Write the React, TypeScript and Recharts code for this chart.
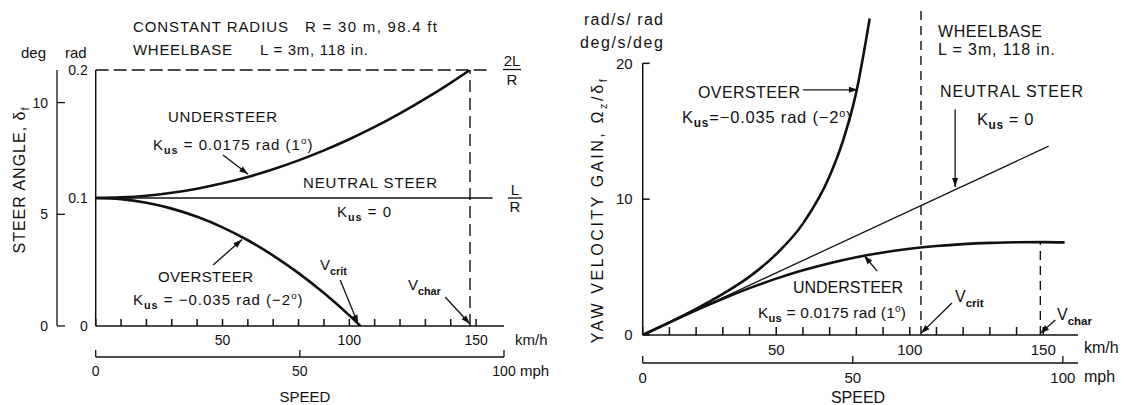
import { ComposedChart, Line, XAxis, YAxis, ReferenceLine } from "recharts"

const FONT = '"Liberation Sans", Arial, Helvetica, sans-serif'
const INK = "#111"

// left panel: steer angle (rad) vs speed (km/h), R = 30 m
const STEER_KMH = [0, 10, 20, 30, 40, 50, 60, 70, 80, 90, 100, 110, 120, 130, 140, 147.6]
const STEER_UNDER = [0.1, 0.1005, 0.1018, 0.1041, 0.1073, 0.1115, 0.1165, 0.1225, 0.1294, 0.1372, 0.1459, 0.1555, 0.1661, 0.1776, 0.19, 0.2]
const OVER_KMH = [0, 10, 20, 30, 40, 50, 60, 70, 80, 90, 100, 104.4]
const STEER_OVER = [0.1, 0.0991, 0.0963, 0.0917, 0.0853, 0.0771, 0.067, 0.055, 0.0413, 0.0257, 0.0083, 0]
const NEUTRAL_KMH = [0, 156.5]
const STEER_NEUTRAL = [0.1, 0.1]

// right panel: yaw velocity gain vs speed (km/h)
const GAIN_KMH = [0, 10, 20, 30, 40, 50, 60, 70, 80, 90, 100, 110, 120, 130, 140, 150, 158]
const GAIN_UNDER = [0, 0.92, 1.82, 2.67, 3.45, 4.15, 4.77, 5.29, 5.73, 6.08, 6.35, 6.55, 6.69, 6.78, 6.83, 6.84, 6.82]
const GAIN_OVER_KMH = [0, 10, 20, 30, 40, 50, 60, 70, 75, 80, 85]
const GAIN_OVER = [0, 0.93, 1.92, 3.02, 4.3, 5.95, 8.2, 11.7, 14.3, 17.9, 23.3]
const GAIN_NEUTRAL_KMH = [0, 152]
const GAIN_NEUTRAL = [0, 13.9]

const V_CRIT = 104.2
const V_CHAR = 147.6

const KMH_TICKS = [0, 10, 20, 30, 40, 50, 60, 70, 80, 90, 100, 110, 120, 130, 140, 150]
const MPH_TICKS = [0, 50, 100]
const RAD_TICKS = [0, 0.1, 0.2]
const DEG_TICKS = [0, 5, 10]
const GAIN_TICKS = [0, 10, 20]

const rows = (xs: number[], ys: number[]) => xs.map((x, i) => ({ kmh: x, v: ys[i] }))
// invisible rows so the mph axis gets a scale of its own
const mphRows = (lo: number) => MPH_TICKS.map((m) => ({ mph: m, v: lo }))
const kmhLabel = (v: number) => (v > 0 && v % 50 === 0 ? String(v) : "")
const tickStyle = { fill: INK, fontSize: 14, fontFamily: FONT }
const tickStyleR = { fill: INK, fontSize: 15, fontFamily: FONT }

// line with a small filled head at the end point
const Arrow = (props: any) => {
    const { x1, y1, x2, y2 } = props
    const a = Math.atan2(y2 - y1, x2 - x1)
    const L = 9
    const W = 3
    const bx = x2 - L * Math.cos(a)
    const by = y2 - L * Math.sin(a)
    const pts = `${x2},${y2} ${bx + W * Math.sin(a)},${by - W * Math.cos(a)} ${bx - W * Math.sin(a)},${by + W * Math.cos(a)}`
    return (
        <g>
            <line x1={x1} y1={y1} x2={x2} y2={y2} stroke={INK} strokeWidth={1.3} />
            <polygon points={pts} fill={INK} />
        </g>
    )
}

function Tx({ x, y, w, size = 15, children }: { x: number; y: number; w: number; size?: number; children: string }) {
    return (
        <text x={x} y={y} fontSize={size} textLength={w} lengthAdjust="spacing">{children}</text>
    )
}

function Kus({ x, y, val, deg, gap = " ", size = 15, ls = 1 }: { x: number; y: number; val: string; deg?: string; gap?: string; size?: number; ls?: number }) {
    return (
        <text x={x} y={y} fontSize={size} letterSpacing={ls}>
            K<tspan dy={4} fontSize={size * 0.72} fontWeight="bold">us</tspan>
            <tspan dy={-4}>{`${gap}=${gap}${val}`}</tspan>
            {deg !== undefined && (
                <>
                    <tspan>{` rad (${deg}`}</tspan>
                    <tspan dy={-6} fontSize={size * 0.65}>o</tspan>
                    <tspan dy={6}>)</tspan>
                </>
            )}
        </text>
    )
}

function V({ x, y, sub, size = 15 }: { x: number; y: number; sub: string; size?: number }) {
    return (
        <text x={x} y={y} fontSize={size}>
            V<tspan dy={5} fontSize={size * 0.72} fontWeight="bold">{sub}</tspan>
        </text>
    )
}

function SteerChart() {
    return (
        <ComposedChart width={560} height={405} margin={{ top: 70, right: 56, bottom: 0, left: 0 }}>
            <XAxis xAxisId="kmh" dataKey="kmh" type="number" domain={[0, 161]} allowDataOverflow ticks={KMH_TICKS} interval={0}
                tickFormatter={kmhLabel} height={31} tickSize={-7} tickMargin={16} stroke={INK} strokeWidth={1.5} tick={tickStyle} />
            <XAxis xAxisId="mph" dataKey="mph" type="number" domain={[0, 100]} allowDataOverflow ticks={MPH_TICKS} interval={0}
                height={48} tickSize={-7} tickMargin={16} stroke={INK} strokeWidth={1.3} tick={tickStyle} />
            {/* deg scale sits outside the rad scale */}
            <YAxis yAxisId="outer" type="number" domain={[0, 11.459]} allowDataOverflow ticks={DEG_TICKS} interval={0} width={57}
                tickSize={-8} tickMargin={17} stroke={INK} strokeWidth={1.3} tick={tickStyle} />
            <YAxis yAxisId="inner" type="number" domain={[0, 0.2]} allowDataOverflow ticks={RAD_TICKS} interval={0} width={38.7}
                tickLine={false} tickSize={0} tickMargin={8} stroke={INK} strokeWidth={1.5} tick={tickStyle}
                tickFormatter={(v: number) => (v === 0 ? "0" : v.toFixed(1))} />

            <Line xAxisId="mph" yAxisId="inner" data={mphRows(0)} dataKey="v" stroke="none" dot={false} isAnimationActive={false} />

            <ReferenceLine xAxisId="kmh" yAxisId="inner" segment={[{ x: 0, y: 0.2 }, { x: 154.8, y: 0.2 }]} stroke={INK} strokeWidth={1.4} strokeDasharray="13 5" />
            <ReferenceLine xAxisId="kmh" yAxisId="inner" segment={[{ x: V_CHAR, y: 0 }, { x: V_CHAR, y: 0.2 }]} stroke={INK} strokeWidth={1.4} strokeDasharray="12 6" />

            <Line xAxisId="kmh" yAxisId="inner" data={rows(NEUTRAL_KMH, STEER_NEUTRAL)} dataKey="v" type="linear" stroke={INK} strokeWidth={1.5} dot={false} isAnimationActive={false} />
            <Line xAxisId="kmh" yAxisId="inner" data={rows(STEER_KMH, STEER_UNDER)} dataKey="v" type="monotone" stroke={INK} strokeWidth={2.6} dot={false} isAnimationActive={false} />
            <Line xAxisId="kmh" yAxisId="inner" data={rows(OVER_KMH, STEER_OVER)} dataKey="v" type="monotone" stroke={INK} strokeWidth={2.6} dot={false} isAnimationActive={false} />

            <ReferenceLine xAxisId="kmh" yAxisId="inner" segment={[{ x: 50.2, y: 0.1336 }, { x: 60.1, y: 0.1185 }]} shape={Arrow} />
            <ReferenceLine xAxisId="kmh" yAxisId="inner" segment={[{ x: 46.3, y: 0.0477 }, { x: 57.7, y: 0.0675 }]} shape={Arrow} />
            <ReferenceLine xAxisId="kmh" yAxisId="inner" segment={[{ x: 96.4, y: 0.0359 }, { x: 103.5, y: 0.0016 }]} shape={Arrow} />
            <ReferenceLine xAxisId="kmh" yAxisId="inner" segment={[{ x: 137.8, y: 0.0227 }, { x: V_CHAR, y: 0.0016 }]} shape={Arrow} />
        </ComposedChart>
    )
}

function GainChart() {
    return (
        <ComposedChart width={570} height={405} margin={{ top: 9, right: 52, bottom: 0, left: 0 }}>
            <XAxis xAxisId="kmh" dataKey="kmh" type="number" domain={[0, 163]} allowDataOverflow ticks={KMH_TICKS} interval={0}
                tickFormatter={kmhLabel} height={28} tickSize={-8} tickMargin={17} stroke={INK} strokeWidth={1.5} tick={tickStyleR} />
            <XAxis xAxisId="mph" dataKey="mph" type="number" domain={[0, 103.6]} allowDataOverflow ticks={MPH_TICKS} interval={0}
                height={42} tickSize={-7} tickMargin={16} stroke={INK} strokeWidth={1.3} tick={tickStyleR} />
            <YAxis yAxisId="gain" type="number" domain={[0, 24]} allowDataOverflow ticks={GAIN_TICKS} interval={0} width={82.7}
                axisLine={false} tickSize={-7} tickMargin={17} stroke={INK} strokeWidth={1.5} tick={tickStyleR} />

            <Line xAxisId="mph" yAxisId="gain" data={mphRows(0)} dataKey="v" stroke="none" dot={false} isAnimationActive={false} />

            <ReferenceLine xAxisId="kmh" yAxisId="gain" segment={[{ x: 0, y: 0 }, { x: 0, y: 20 }]} stroke={INK} strokeWidth={1.5} />
            <ReferenceLine xAxisId="kmh" yAxisId="gain" segment={[{ x: V_CRIT, y: 0 }, { x: V_CRIT, y: 24 }]} stroke={INK} strokeWidth={1.4} strokeDasharray="9 6" />
            <ReferenceLine xAxisId="kmh" yAxisId="gain" segment={[{ x: 148.9, y: 0 }, { x: 148.9, y: 6.85 }]} stroke={INK} strokeWidth={1.4} strokeDasharray="9 6" />

            <Line xAxisId="kmh" yAxisId="gain" data={rows(GAIN_NEUTRAL_KMH, GAIN_NEUTRAL)} dataKey="v" type="linear" stroke={INK} strokeWidth={1.3} dot={false} isAnimationActive={false} />
            <Line xAxisId="kmh" yAxisId="gain" data={rows(GAIN_KMH, GAIN_UNDER)} dataKey="v" type="monotone" stroke={INK} strokeWidth={2.6} dot={false} isAnimationActive={false} />
            <Line xAxisId="kmh" yAxisId="gain" data={rows(GAIN_OVER_KMH, GAIN_OVER)} dataKey="v" type="monotone" stroke={INK} strokeWidth={2.6} dot={false} isAnimationActive={false} />

            <ReferenceLine xAxisId="kmh" yAxisId="gain" segment={[{ x: 60, y: 18.05 }, { x: 80.6, y: 18.05 }]} shape={Arrow} />
            <ReferenceLine xAxisId="kmh" yAxisId="gain" segment={[{ x: 117, y: 16.6 }, { x: 117, y: 10.9 }]} shape={Arrow} />
            <ReferenceLine xAxisId="kmh" yAxisId="gain" segment={[{ x: 87.8, y: 4.7 }, { x: 82.9, y: 5.85 }]} shape={Arrow} />
            <ReferenceLine xAxisId="kmh" yAxisId="gain" segment={[{ x: 115.8, y: 2.35 }, { x: V_CRIT, y: 0.12 }]} shape={Arrow} />
            <ReferenceLine xAxisId="kmh" yAxisId="gain" segment={[{ x: 154.5, y: 1.1 }, { x: 148.9, y: 0.12 }]} shape={Arrow} />
        </ComposedChart>
    )
}

function Notes() {
    return (
        <svg width={1130} height={405} style={{ position: "absolute", left: 0, top: 0, pointerEvents: "none", whiteSpace: "pre" }}
            fontFamily={FONT} fontSize={15} fill={INK}>
            {/* left panel */}
            <text x={21} y={58}>deg</text>
            <text x={65} y={58}>rad</text>
            <Tx x={133} y={32} w={155}>CONSTANT  RADIUS</Tx>
            <Tx x={305} y={32} w={132}>R = 30 m,  98.4  ft</Tx>
            <Tx x={133} y={55} w={99}>WHEELBASE</Tx>
            <Tx x={260} y={55} w={108}>L = 3m, 118 in.</Tx>
            <Tx x={168} y={122} w={109}>UNDERSTEER</Tx>
            <Kus x={153} y={150} val="0.0175" deg="1" />
            <Tx x={303} y={188} w={134}>NEUTRAL  STEER</Tx>
            <Kus x={337} y={217} val="0" />
            <Tx x={158} y={282} w={95}>OVERSTEER</Tx>
            <Kus x={133} y={305} val="−0.035" deg="−2" />
            <V x={320} y={270} sub="crit" />
            <V x={408} y={290} sub="char" />
            <text x={512} y={66} textAnchor="middle">2L</text>
            <line x1={503} x2={521} y1={69.5} y2={69.5} stroke={INK} strokeWidth={1.3} />
            <text x={512} y={85} textAnchor="middle">R</text>
            <text x={515} y={195} textAnchor="middle">L</text>
            <line x1={508} x2={522} y1={198} y2={198} stroke={INK} strokeWidth={1.3} />
            <text x={515} y={212} textAnchor="middle">R</text>
            <text x={515} y={345}>km/h</text>
            <text x={520} y={376}>mph</text>
            <text x={305} y={402} textAnchor="middle">SPEED</text>
            <text transform="translate(25,180) rotate(-90)" textAnchor="middle" fontSize={16} letterSpacing={1}>
                STEER  ANGLE, δ<tspan dy={4} fontSize={11}>f</tspan>
            </text>

            {/* right panel */}
            <Tx x={584} y={25} w={79} size={16}>rad/s/ rad</Tx>
            <Tx x={580} y={48} w={83} size={16}>deg/s/deg</Tx>
            <Tx x={938} y={37} w={104} size={16}>WHEELBASE</Tx>
            <Tx x={938} y={55} w={117} size={16}>L = 3m, 118 in.</Tx>
            <Tx x={940} y={97} w={143} size={16}>NEUTRAL  STEER</Tx>
            <Kus x={977} y={125} val="0" size={16.5} ls={0.6} />
            <Tx x={698} y={98} w={102} size={16}>OVERSTEER</Tx>
            <Kus x={682} y={123} val="−0.035" deg="−2" gap="" size={16.5} ls={0.8} />
            <Tx x={793} y={293} w={110} size={16}>UNDERSTEER</Tx>
            <Kus x={758} y={318} val="0.0175" deg="1" size={15.5} ls={0.2} />
            <V x={955} y={302} sub="crit" size={16} />
            <V x={1057} y={320} sub="char" size={16} />
            <text x={1084} y={353} fontSize={16}>km/h</text>
            <text x={1084} y={382} fontSize={16}>mph</text>
            <text x={858} y={403} textAnchor="middle" fontSize={16}>SPEED</text>
            <text transform="translate(603,210) rotate(-90)" textAnchor="middle" fontSize={16} letterSpacing={2.6}>
                YAW  VELOCITY  GAIN,  Ω<tspan dy={4} fontSize={11}>z</tspan><tspan dy={-4}>/δ</tspan><tspan dy={4} fontSize={11}>f</tspan>
            </text>
        </svg>
    )
}

export default function App() {
    return (
        <div style={{ position: "absolute", left: 0, top: 0, width: 1130, height: 405, background: "#fff", fontFamily: FONT }}>
            <div style={{ position: "absolute", left: 0, top: 0 }}>
                <SteerChart />
            </div>
            <div style={{ position: "absolute", left: 560, top: 0 }}>
                <GainChart />
            </div>
            <Notes />
        </div>
    )
}
